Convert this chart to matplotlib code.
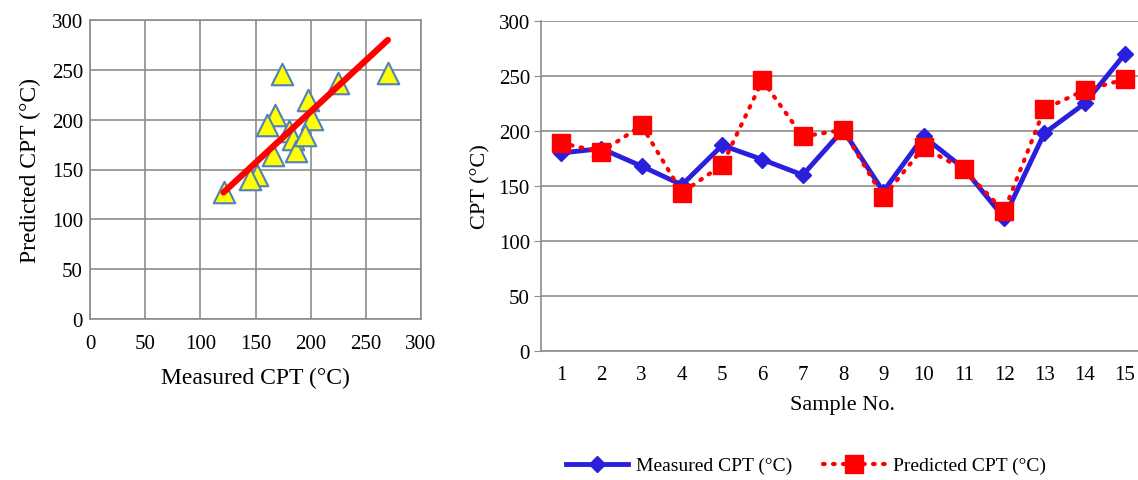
import numpy as np
import matplotlib
matplotlib.use("Agg")
import matplotlib.pyplot as plt

plt.rcParams["font.family"] = ["Liberation Serif", "DejaVu Serif"]

samples = list(range(1, 16))
measured = [180, 184, 168, 151, 187, 174, 160, 201, 145, 195, 166, 121, 198, 225, 270]
predicted = [189, 181, 205, 144, 169, 246, 195, 201, 140, 185, 165, 127, 220, 237, 247]

# trend line endpoints
fit_x = [121, 270]
fit_y = [127, 280]

ticks = [0, 50, 100, 150, 200, 250, 300]
grid_col = "#8c8c8c"
blue = "#2a1fdc"
red = "#ff0000"

fig = plt.figure(figsize=(11.38, 4.81), dpi=100)

# left: predicted vs measured
ax1 = fig.add_axes([90 / 1138, 1 - 320 / 481, 331 / 1138, 299 / 481])
ax1.set_xlim(0, 300)
ax1.set_ylim(0, 300)
ax1.set_xticks(ticks)
ax1.set_yticks(ticks)
ax1.grid(True, color=grid_col, linewidth=1.2)
ax1.set_axisbelow(True)
for s in ax1.spines.values():
    s.set_color(grid_col)
    s.set_linewidth(1.2)
ax1.tick_params(axis="y", length=0, labelsize=15, pad=5)
ax1.tick_params(axis="x", length=0, labelsize=15, pad=11)
ax1.scatter(measured, predicted, marker="^", s=240, facecolor="#ffff00",
            edgecolor="#4f81bd", linewidth=1.5, zorder=3)
ax1.plot(fit_x, fit_y, color=red, linewidth=4.5, solid_capstyle="round", zorder=4)
ax1.set_xlabel("Measured CPT (°C)", fontsize=17, labelpad=10)
ax1.set_ylabel("Predicted CPT (°C)", fontsize=17, labelpad=8)

# right: per-sample comparison
ax2 = fig.add_axes([541 / 1138, 1 - 352 / 481, 604 / 1138, 330 / 481])
ax2.set_xlim(0.5, 15.5)
ax2.set_ylim(0, 300)
ax2.set_yticks(ticks)
ax2.set_xticks(samples)
ax2.grid(True, axis="y", color=grid_col, linewidth=1.2)
ax2.set_axisbelow(True)
for side in ["top", "right"]:
    ax2.spines[side].set_visible(False)
for side in ["left", "bottom"]:
    ax2.spines[side].set_color(grid_col)
    ax2.spines[side].set_linewidth(1.2)
ax2.tick_params(axis="y", length=5, color=grid_col, labelsize=15, pad=3)
ax2.tick_params(axis="x", length=0, labelsize=15, pad=10)
ax2.plot(samples, measured, color=blue, linewidth=3.5, marker="D", markersize=8,
         label="Measured CPT (°C)", zorder=3)
ax2.plot(samples, predicted, color=red, linewidth=3, linestyle=(0, (0.4, 2.0)),
         dash_capstyle="round", marker="s", markersize=13,
         label="Predicted CPT (°C)", zorder=4)
ax2.set_xlabel("Sample No.", fontsize=16, labelpad=8)
ax2.set_ylabel("CPT (°C)", fontsize=16, labelpad=6)

fig.legend(*ax2.get_legend_handles_labels(), loc="center",
           bbox_to_anchor=(0.708, 0.03), ncol=2, frameon=False, fontsize=14,
           handlelength=3.2, handletextpad=0.4, columnspacing=1.6, numpoints=1)

fig.savefig("out.png", dpi=100)
